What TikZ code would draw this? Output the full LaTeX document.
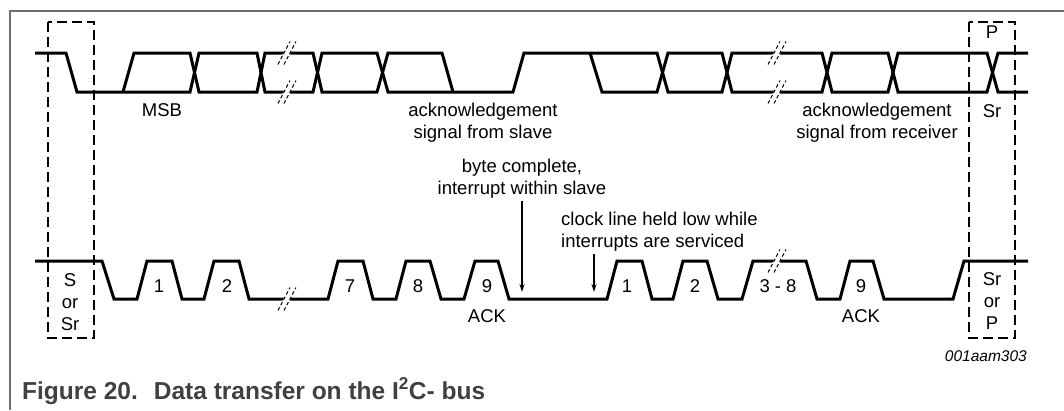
\documentclass[tikz,border=0pt]{standalone}
\usepackage{fontspec}
\setmainfont{Liberation Sans}
\usetikzlibrary{arrows.meta}
\definecolor{framegray}{RGB}{110,110,110}
\definecolor{capgray}{RGB}{64,64,64}
\tikzset{
  wave/.style={line width=3pt},
  markbox/.style={line width=1.5pt, dash pattern=on 10pt off 5pt},
  lbl/.style={font=\fontsize{18.5}{22}\selectfont, inner sep=0pt, anchor=base, align=center},
  pointer/.style={line width=1.2pt, -{Stealth[length=8pt,width=5pt]}, shorten <=3pt},
  brk/.pic={
    \fill[white] (-5,2.8) -- (2.2,2.8) -- (5,-2.8) -- (-2.2,-2.8) -- cycle;
    \draw[line width=1pt, dash pattern=on 3.5pt off 2.5pt] (-9,11.5) -- (3,-11.5);
    \draw[line width=1pt, dash pattern=on 3.5pt off 2.5pt] (-3,11.5) -- (9,-11.5);
  }
}

\begin{document}
\begin{tikzpicture}[x=1pt,y=-1pt]
\useasboundingbox (0,0) rectangle (1064,410);
\draw[framegray, line width=1.2pt] (10,410) -- (10,11) -- (1064,11);

\draw[wave] (35,53) -- (66,53) -- (77,92) -- (190,92) -- (199,53) -- (257,53) -- (265,92)
  -- (313,92) -- (322,53) -- (377,53) -- (388,92) -- (513,92) -- (524,53) -- (657,53)
  -- (668,92) -- (722,92) -- (732,53) -- (822,53) -- (832,92) -- (888,92) -- (898,53)
  -- (987,53) -- (998,92) -- (1028,92);
\draw[wave] (123,92) -- (134,53) -- (190,53) -- (199,92) -- (257,92) -- (265,53) -- (313,53)
  -- (322,92) -- (377,92) -- (388,53) -- (442,53) -- (453,92);
\draw[wave] (590,53) -- (602,92) -- (657,92) -- (668,53) -- (722,53) -- (732,92) -- (822,92)
  -- (832,53) -- (888,53) -- (898,92) -- (987,92) -- (998,53) -- (1028,53);

\draw[wave] (35,261) -- (102,261) -- (114,299) -- (137,299) -- (147,261) -- (172,261)
  -- (182,299) -- (204,299) -- (214,261) -- (239,261) -- (249,299) -- (328,299) -- (338,261)
  -- (363,261) -- (373,299) -- (396,299) -- (406,261) -- (430,261) -- (441,299) -- (464,299)
  -- (475,261) -- (498,261) -- (509,299) -- (607,299) -- (617,261) -- (642,261) -- (652,299)
  -- (673,299) -- (683,261) -- (707,261) -- (718,299) -- (742,299) -- (753,261) -- (806,261)
  -- (817,299) -- (840,299) -- (850,261) -- (873,261) -- (884,299) -- (953,299) -- (964,261)
  -- (1028,261);

\pic at (287,53) {brk};
\pic at (287,92) {brk};
\pic at (287,299) {brk};
\pic at (777,53) {brk};
\pic at (777,92) {brk};
\pic at (777,261) {brk};

\draw[markbox] (48,22) rectangle (94,338);
\draw[markbox] (969,22) rectangle (1015,338);

\node[lbl] (msb) at (162,116) {MSB};
\node[lbl] (ackslave) at (483,138) {acknowledgement\\signal from slave};
\node[lbl] (ackrecv) at (877,138) {acknowledgement\\signal from receiver};
\node[lbl] (stopp) at (992,38) {P};
\node[lbl] (restart) at (992,117) {Sr};
\node[lbl] (startbox) at (70,330) {S\\or\\Sr};
\node[lbl] (endbox) at (992,329) {Sr\\or\\P};
\node[lbl] (bytedone) at (522,194) {byte complete,\\interrupt within slave};
\node[lbl, anchor=base west, align=left] (heldlow) at (561,247) {clock line held low while\\interrupts are serviced};

\node[lbl] (ca) at (159,292) {1};
\node[lbl] (cb) at (227,292) {2};
\node[lbl] (cg) at (350,292) {7};
\node[lbl] (ch) at (418,292) {8};
\node[lbl] (ci) at (487,292) {9};
\node[lbl] (cj) at (627,292) {1};
\node[lbl] (ck) at (695,292) {2};
\node[lbl] (cl) at (778,292) {3 - 8};
\node[lbl] (cm) at (861,292) {9};
\node[lbl] (acka) at (487,322) {ACK};
\node[lbl] (ackb) at (861,322) {ACK};

\coordinate (bytetip) at (522,292);
\coordinate (heldtip) at (594,292);
\draw[pointer] (bytedone.south) -- (bytetip);
\draw[pointer] (heldlow.south -| heldtip) -- (heldtip);

\node[inner sep=0pt, anchor=base east, font=\itshape\fontsize{15.5}{18}\selectfont] (code) at (1027,361) {001aam303};
\node[inner sep=0pt, anchor=base west, text=capgray, font=\bfseries\fontsize{24.5}{29}\selectfont] (caption) at (22,399)
  {Figure 20.\hspace{0.28em} Data transfer on the I\textsuperscript{2}C- bus};
\end{tikzpicture}
\end{document}
